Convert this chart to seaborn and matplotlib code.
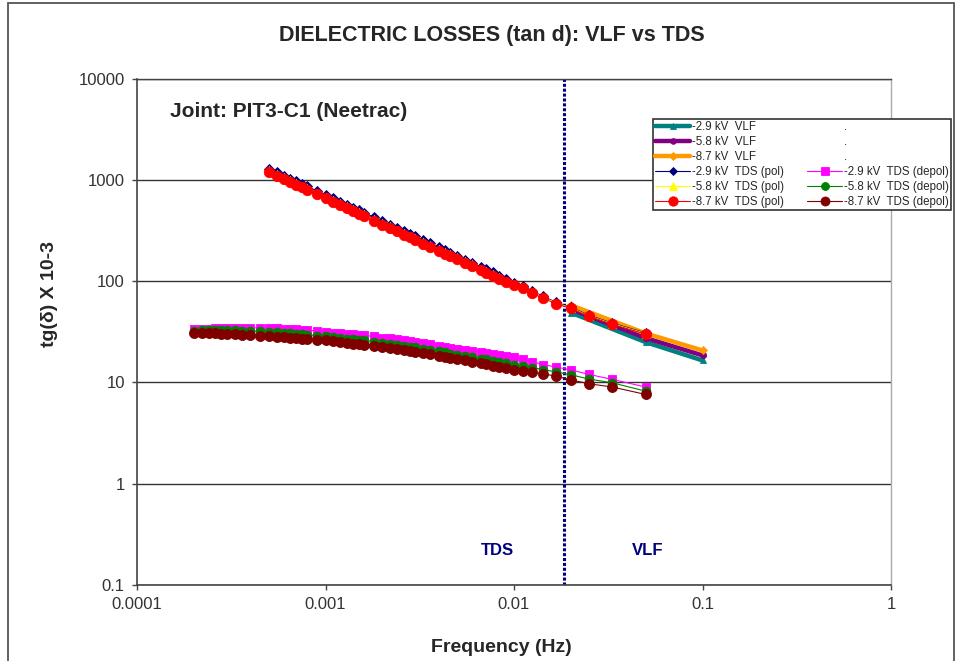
import numpy as np
import pandas as pd
import matplotlib
matplotlib.use("Agg")
import matplotlib.pyplot as plt
import seaborn as sns
from matplotlib.lines import Line2D
from matplotlib.patches import Rectangle
from matplotlib.ticker import FixedLocator, FixedFormatter, NullLocator

# ---------------- data ----------------
FREQ_VLF = [0.02, 0.05, 0.1]
VLF_29 = [49.0, 25.0, 16.5]
VLF_58 = [53.0, 27.5, 18.5]
VLF_87 = [58.0, 30.5, 20.7]

FREQ_POL = [0.0005, 0.00055, 0.0006, 0.00065, 0.0007, 0.00075, 0.0008, 0.0009, 0.001, 0.0011,
            0.0012, 0.0013, 0.0014, 0.0015, 0.0016, 0.0018, 0.002, 0.0022, 0.0024, 0.0026,
            0.0028, 0.003, 0.0033, 0.0036, 0.004, 0.0043, 0.0046, 0.005, 0.0055, 0.006,
            0.0067, 0.0071, 0.0077, 0.0083, 0.0091, 0.01, 0.0111, 0.0125, 0.0143, 0.0167,
            0.02, 0.025, 0.0333, 0.05]
POL_29 = [1300, 1198, 1111, 1036, 972, 916, 867, 783, 716, 659,
          612, 571, 535, 505, 478, 431, 394, 363, 337, 314,
          294, 278, 255, 237, 216, 203, 192, 178, 164, 152,
          138, 131, 123, 114, 105, 97, 90, 80, 71, 62,
          55.5, 46, 38.5, 30.8]
POL_58 = [1250, 1152, 1068, 996, 935, 881, 834, 753, 688, 634,
          588, 549, 514, 485, 459, 414, 379, 349, 324, 302,
          283, 267, 246, 228, 208, 196, 185, 172, 158, 147,
          133, 127, 118, 110, 101, 94, 87.5, 78, 69.5, 61,
          54.8, 45.5, 38, 30.4]
POL_87 = [1200, 1106, 1026, 957, 898, 846, 801, 723, 661, 609,
          565, 527, 494, 466, 441, 398, 364, 335, 311, 290,
          272, 257, 236, 219, 200, 188, 178, 165, 152, 141,
          128, 122, 114, 106, 98, 91, 85, 76, 68, 60,
          54, 45, 37.5, 30]

FREQ_DEPOL = [0.0002, 0.00022, 0.00024, 0.00026, 0.00028, 0.0003, 0.00033, 0.00036, 0.0004, 0.00045] + FREQ_POL
DEPOL_29 = [33.5, 33.8, 34.0, 34.2, 34.4, 34.5, 34.6, 34.7, 34.7, 34.6,
            34.5, 34.3, 34.1, 33.8, 33.5, 33.2, 32.9, 32.2, 31.5, 31.0,
            30.6, 30.2, 29.8, 29.5, 29.2, 28.5, 27.8, 27.2, 26.6, 26.1,
            25.5, 25.0, 24.4, 23.8, 23.0, 22.5, 22.0, 21.5, 20.9, 20.4,
            19.8, 19.5, 19.0, 18.6, 18.2, 17.8, 17.0, 16.0, 15.0, 14.2,
            13.3, 12.0, 10.7, 9.0]
DEPOL_58 = [32.5, 32.7, 32.8, 32.9, 32.9, 32.9, 32.8, 32.6, 32.4, 32.0,
            31.6, 31.2, 30.9, 30.5, 30.2, 29.9, 29.6, 29.0, 28.5, 28.0,
            27.5, 27.1, 26.7, 26.3, 26.0, 25.3, 24.7, 24.1, 23.6, 23.1,
            22.6, 22.2, 21.6, 21.0, 20.3, 19.8, 19.3, 18.8, 18.3, 17.8,
            17.2, 16.9, 16.4, 16.0, 15.4, 14.8, 14.4, 14.0, 13.4, 12.7,
            11.9, 10.8, 9.9, 8.2]
DEPOL_87 = [31.0, 30.9, 30.8, 30.6, 30.4, 30.2, 30.0, 29.7, 29.4, 29.0,
            28.6, 28.3, 28.0, 27.7, 27.4, 27.1, 26.9, 26.4, 26.0, 25.5,
            25.0, 24.6, 24.2, 23.9, 23.6, 23.0, 22.4, 21.9, 21.4, 21.0,
            20.6, 20.2, 19.6, 19.1, 18.4, 18.0, 17.5, 17.0, 16.5, 16.0,
            15.4, 15.1, 14.6, 14.2, 13.8, 13.4, 13.0, 12.6, 12.2, 11.5,
            10.6, 9.7, 9.0, 7.6]

SERIES_NAMES = ["-2.9 kV  VLF", "-5.8 kV  VLF", "-8.7 kV  VLF",
                "-2.9 kV  TDS (pol)", "-5.8 kV  TDS (pol)", "-8.7 kV  TDS (pol)",
                "-2.9 kV  TDS (depol)", "-5.8 kV  TDS (depol)", "-8.7 kV  TDS (depol)"]

X_TICKS = [0.0001, 0.001, 0.01, 0.1, 1]
X_TICK_LABELS = ["0.0001", "0.001", "0.01", "0.1", "1"]
Y_TICKS = [0.1, 1, 10, 100, 1000, 10000]
Y_TICK_LABELS = ["0.1", "1", "10", "100", "1000", "10000"]
BOUNDARY_FREQ = 0.0185

TITLE = "DIELECTRIC LOSSES (tan d): VLF vs TDS"
SUBTITLE = "Joint: PIT3-C1 (Neetrac)"
X_LABEL = "Frequency (Hz)"
Y_LABEL = "tg(\u03b4) X 10-3"

# ---------------- table ----------------
series_data = [
    (FREQ_VLF, VLF_29), (FREQ_VLF, VLF_58), (FREQ_VLF, VLF_87),
    (FREQ_POL, POL_29), (FREQ_POL, POL_58), (FREQ_POL, POL_87),
    (FREQ_DEPOL, DEPOL_29), (FREQ_DEPOL, DEPOL_58), (FREQ_DEPOL, DEPOL_87),
]
rows = []
for name, (fx, vy) in zip(SERIES_NAMES, series_data):
    for f, v in zip(fx, vy):
        rows.append({"series": name, "freq": f, "value": v})
df = pd.DataFrame(rows)

styles = {
    "-2.9 kV  VLF": dict(color="#008080", marker="^", markersize=4.5, linewidth=3.2),
    "-5.8 kV  VLF": dict(color="#800080", marker="o", markersize=4.5, linewidth=3.2),
    "-8.7 kV  VLF": dict(color="#FF9900", marker="D", markersize=4.0, linewidth=3.2),
    "-2.9 kV  TDS (pol)": dict(color="#000080", marker="D", markersize=5.0, linewidth=0.8),
    "-5.8 kV  TDS (pol)": dict(color="#FFFF00", marker="^", markersize=6.0, linewidth=0.8),
    "-8.7 kV  TDS (pol)": dict(color="#FF0000", marker="o", markersize=7.5, linewidth=0.8),
    "-2.9 kV  TDS (depol)": dict(color="#FF00FF", marker="s", markersize=6.0, linewidth=0.8),
    "-5.8 kV  TDS (depol)": dict(color="#008000", marker="o", markersize=6.3, linewidth=0.8),
    "-8.7 kV  TDS (depol)": dict(color="#800000", marker="o", markersize=7.2, linewidth=0.8),
}

# ---------------- figure ----------------
sns.set_style("white")
plt.rcParams["font.family"] = ["Liberation Sans", "DejaVu Sans"]

W, H = 956, 661
fig = plt.figure(figsize=(W / 100, H / 100), dpi=100)
ax = fig.add_axes([137 / W, 1 - 584.7 / H, (891 - 137) / W, (584.7 - 79) / H])
ax.set_xscale("log")
ax.set_yscale("log")

for name in SERIES_NAMES:
    st = styles[name]
    sub = df[df["series"] == name]
    sns.lineplot(data=sub, x="freq", y="value", ax=ax, estimator=None, sort=False,
                 color=st["color"], marker=st["marker"], markersize=st["markersize"],
                 markeredgecolor=st["color"], markeredgewidth=0.6,
                 linewidth=st["linewidth"], label=name, legend=False)

ax.axvline(BOUNDARY_FREQ, color="#000080", linestyle=(0, (1, 0.6)), linewidth=2.2, zorder=1.5)

ax.set_xlim(X_TICKS[0], X_TICKS[-1])
ax.set_ylim(Y_TICKS[0], Y_TICKS[-1])
ax.xaxis.set_major_locator(FixedLocator(X_TICKS))
ax.xaxis.set_major_formatter(FixedFormatter(X_TICK_LABELS))
ax.yaxis.set_major_locator(FixedLocator(Y_TICKS))
ax.yaxis.set_major_formatter(FixedFormatter(Y_TICK_LABELS))
ax.xaxis.set_minor_locator(NullLocator())
ax.yaxis.set_minor_locator(NullLocator())
ax.set_xlabel("")
ax.set_ylabel("")

ax.grid(False)
ax.yaxis.grid(True, color="#333333", linewidth=1.0)
ax.set_axisbelow(True)
ax.tick_params(axis="both", which="major", direction="out", length=3.8, width=1.0,
               color="#444444", labelsize=12, labelcolor="#333333", pad=5,
               bottom=True, left=True)
for side in ["left", "bottom"]:
    ax.spines[side].set_color("#444444")
    ax.spines[side].set_linewidth(1.2)
ax.spines["right"].set_color("#aaaaaa")
ax.spines["right"].set_linewidth(1.0)
ax.spines["top"].set_color("#444444")
ax.spines["top"].set_linewidth(1.0)

# legend with Excel-like placeholder entries
handles, labels = ax.get_legend_handles_labels()
hmap = dict(zip(labels, handles))
blank = [Line2D([], [], linestyle="none", marker=None) for _ in range(3)]
leg_handles = [hmap[n] for n in SERIES_NAMES[:6]] + blank + [hmap[n] for n in SERIES_NAMES[6:]]
leg_labels = SERIES_NAMES[:6] + [".", ".", "."] + SERIES_NAMES[6:]
leg = ax.legend(leg_handles, leg_labels, ncol=2, loc="upper left",
                bbox_to_anchor=(653 / W, 1 - 119 / H), bbox_transform=fig.transFigure,
                borderaxespad=0, fontsize=8.3, handlelength=3.0, handletextpad=0.2,
                columnspacing=2.0, labelspacing=0.25, borderpad=0.2,
                frameon=True, fancybox=False, framealpha=1, edgecolor="#333333",
                markerscale=0.9)
leg.get_frame().set_linewidth(1.2)

# texts
fig.text(492 / W, 1 - 41 / H, TITLE, ha="center", va="baseline", fontsize=15.5, fontweight="bold")
fig.text(170 / W, 1 - 117 / H, SUBTITLE, ha="left", va="baseline", fontsize=15, fontweight="bold")
fig.text(501 / W, 1 - 652 / H, X_LABEL, ha="center", va="baseline", fontsize=14, fontweight="bold")
fig.text(49 / W, 1 - 294 / H, Y_LABEL, ha="center", va="center", rotation=90, fontsize=14, fontweight="bold")
fig.text(497 / W, 1 - 555 / H, "TDS", ha="center", va="baseline", fontsize=12, fontweight="bold", color="#000080")
fig.text(648 / W, 1 - 555 / H, "VLF", ha="center", va="baseline", fontsize=12, fontweight="bold", color="#000080")

# outer chart border
fig.add_artist(Rectangle((8 / W, -0.05), 946 / W, (661 - 3) / H + 0.05, transform=fig.transFigure,
                         fill=False, edgecolor="#555555", linewidth=1.3))

fig.savefig("out.png", dpi=100)
